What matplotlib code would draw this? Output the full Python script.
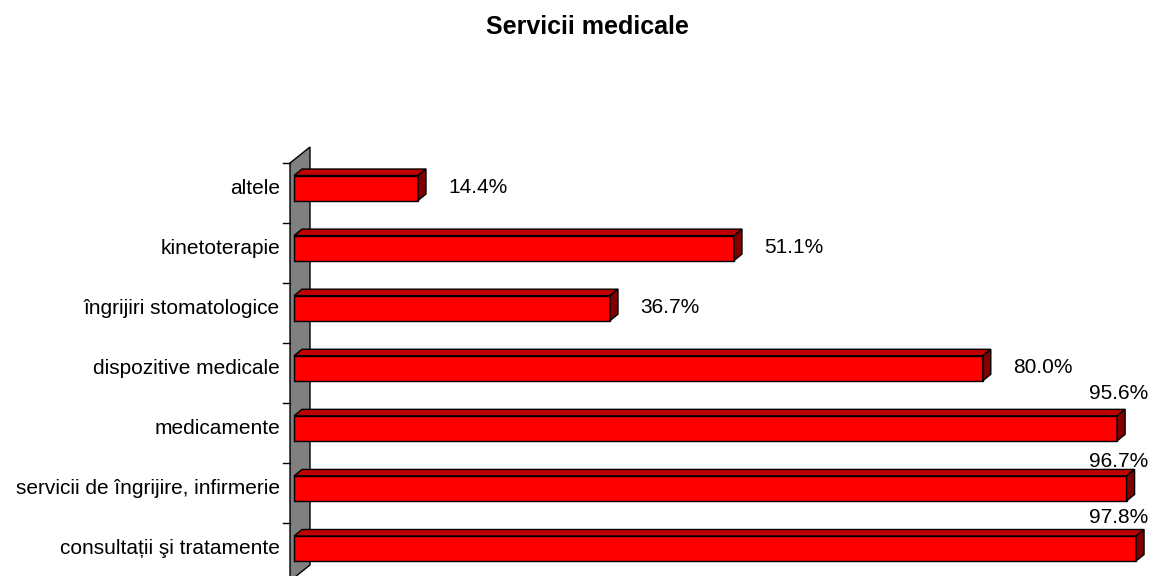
import matplotlib
matplotlib.use("Agg")
import matplotlib.pyplot as plt
from matplotlib.patches import Polygon, Rectangle

# date: procente pe categorii (de jos in sus)
categorii = [
    "consultații şi tratamente",
    "servicii de îngrijire, infirmerie",
    "medicamente",
    "dispozitive medicale",
    "îngrijiri stomatologice",
    "kinetoterapie",
    "altele",
]
procente = [97.8, 96.7, 95.6, 80.0, 36.7, 51.1, 14.4]
titlu = "Servicii medicale"

plt.rcParams["font.family"] = ["Liberation Sans", "DejaVu Sans"]

W, H = 1153, 576
fig = plt.figure(figsize=(W / 100, H / 100), dpi=100)
fig.patch.set_facecolor("white")

# zona graficului (in pixeli): de la peretele lateral pana la marginea dreapta
X0, X1 = 290, 1153
ax = fig.add_axes([X0 / W, 0, (X1 - X0) / W, 413 / H])
PX_X = 8.61    # pixeli pe procent
PX_Y = 60.08   # pixeli pe categorie
ax.set_xlim(-4 / PX_X, (X1 - X0 - 4) / PX_X)
ax.set_ylim(-27.5 / PX_Y, 385.5 / PX_Y)
ax.axis("off")

# adancimea 3D (in unitati de date)
WALL_DX, WALL_DY = 20 / PX_X, 16 / PX_Y
BAR_DX, BAR_DY = 8 / PX_X, 6.5 / PX_Y
HALF = 12.5 / PX_Y

# ridicarea etichetelor (linia de baza) fata de centrul barei
LBL_UP = [0.42, 0.35, 0.49]   # etichetele puse deasupra barelor lungi
LBL_SIDE = -0.08              # etichetele puse in dreapta barei

# peretele gri din stanga
xw = -4 / PX_X
ytop = 385.5 / PX_Y
ybot = -32.5 / PX_Y
wall = Polygon([(xw, ybot), (xw, ytop), (xw + WALL_DX, ytop + WALL_DY),
                (xw + WALL_DX, ybot + WALL_DY)], closed=True,
               facecolor="#808080", edgecolor="black", lw=1.0,
               clip_on=False, zorder=1)
ax.add_patch(wall)

# gradatii pe marginea peretelui
for i in range(len(categorii)):
    yt = i + 25.3 / PX_Y
    ax.plot([xw - 7 / PX_X, xw], [yt, yt], color="black", lw=1.0,
            clip_on=False, zorder=1)

for i, (cat, v) in enumerate(zip(categorii, procente)):
    y0, y1 = i - HALF, i + HALF
    front = Rectangle((0, y0), v, y1 - y0, facecolor="#FF0000",
                      edgecolor="black", lw=1.0, zorder=3, clip_on=False)
    top = Polygon([(0, y1), (v, y1), (v + BAR_DX, y1 + BAR_DY),
                   (BAR_DX, y1 + BAR_DY)], closed=True,
                  facecolor="#C00000", edgecolor="black", lw=1.0,
                  zorder=3, clip_on=False)
    side = Polygon([(v, y0), (v, y1), (v + BAR_DX, y1 + BAR_DY),
                    (v + BAR_DX, y0 + BAR_DY)], closed=True,
                   facecolor="#800000", edgecolor="black", lw=1.0,
                   zorder=3, clip_on=False)
    for p in (front, top, side):
        ax.add_patch(p)

    # etichetele valorilor mari stau deasupra barei, lipite de marginea dreapta
    txt = f"{v:.1f}%"
    if v > 90:
        ax.text(99.2, i + LBL_UP[i], txt, ha="right", va="baseline",
                fontsize=15, zorder=4)
    else:
        ax.text(v + 3.5, i + LBL_SIDE, txt, ha="left", va="baseline",
                fontsize=15, zorder=4)

    ax.text(xw - 10 / PX_X, i, cat, ha="right", va="center", fontsize=15)

fig.text(587.5 / W, 1 - 34 / H, titlu, ha="center", va="baseline",
         fontsize=18, fontweight="bold")

fig.savefig("out.png", dpi=100)
